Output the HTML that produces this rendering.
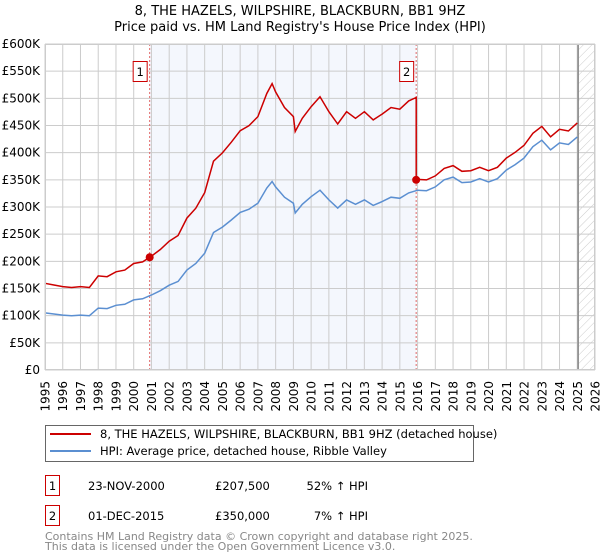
<!DOCTYPE html>
<html><head><meta charset="utf-8">
<style>
body{margin:0;background:#fff;}
svg{display:block;font-family:"DejaVu Sans","Liberation Sans",sans-serif;}
</style></head>
<body>
<svg id="chart" width="600" height="560" viewBox="0 0 600 560">
<defs>
<pattern id="hatch" width="6" height="6" patternUnits="userSpaceOnUse" patternTransform="rotate(45)">
<line x1="0" y1="0" x2="0" y2="6" stroke="#cccccc" stroke-width="1"/>
</pattern>
</defs>
<text x="300" y="15" text-anchor="middle" font-size="13" fill="#000">8, THE HAZELS, WILPSHIRE, BLACKBURN, BB1 9HZ</text>
<text x="300" y="31" text-anchor="middle" font-size="13" fill="#000">Price paid vs. HM Land Registry's House Price Index (HPI)</text>
<g id="plot"></g>
<g id="legend">
<rect x="45.5" y="425.5" width="428" height="36" fill="#fff" stroke="#666"/>
<line x1="50" y1="434" x2="91" y2="434" stroke="#cc0000" stroke-width="2"/>
<text x="100" y="438" font-size="11.5">8, THE HAZELS, WILPSHIRE, BLACKBURN, BB1 9HZ (detached house)</text>
<line x1="50" y1="451" x2="91" y2="451" stroke="#5b8fd1" stroke-width="2"/>
<text x="100" y="455" font-size="11.5">HPI: Average price, detached house, Ribble Valley</text>
</g>
<g font-size="11.5">
<rect x="45.5" y="475.5" width="14" height="20" fill="#fff" stroke="#cc0000"/>
<text x="52.5" y="490" text-anchor="middle">1</text>
<text x="88" y="490">23-NOV-2000</text>
<text x="215" y="490">£207,500</text>
<text x="368" y="490" text-anchor="end">52% ↑ HPI</text>
<rect x="45.5" y="505.5" width="14" height="20" fill="#fff" stroke="#cc0000"/>
<text x="52.5" y="520" text-anchor="middle">2</text>
<text x="88" y="520">01-DEC-2015</text>
<text x="215" y="520">£350,000</text>
<text x="368" y="520" text-anchor="end">7% ↑ HPI</text>
</g>
<text x="45" y="540" font-size="11" fill="#888">Contains HM Land Registry data © Crown copyright and database right 2025.</text>
<text x="45" y="550" font-size="11" fill="#888">This data is licensed under the Open Government Licence v3.0.</text>
</svg>
<script>
const hpiYears = [1995,1995.5,1996,1996.5,1997,1997.5,1998,1998.5,1999,1999.5,2000,2000.5,2001,2001.5,2002,2002.5,2003,2003.5,2004,2004.5,2005,2005.5,2006,2006.5,2007,2007.5,2007.8,2008,2008.5,2009,2009.1,2009.5,2010,2010.5,2011,2011.5,2012,2012.5,2013,2013.5,2014,2014.5,2015,2015.5,2016,2016.5,2017,2017.5,2018,2018.5,2019,2019.5,2020,2020.5,2021,2021.5,2022,2022.5,2023,2023.5,2024,2024.5,2025];
const hpiValues = [105,103,101,100,101,100,114,113,119,121,129,131,138,146,156,163,184,196,215,253,263,276,290,296,307,335,347,337,318,307,289,305,319,331,313,298,313,305,313,303,310,318,316,326,331,330,337,350,355,345,346,352,346,352,368,378,390,411,423,405,418,415,429];
const sales = [{t:2000.9, v:207.5, label:"1"},{t:2015.92, v:350, label:"2"}];
const yTicks = [0,50,100,150,200,250,300,350,400,450,500,550,600];
const yTickLabels = ["£0","£50K","£100K","£150K","£200K","£250K","£300K","£350K","£400K","£450K","£500K","£550K","£600K"];
const xTicks = [1995,1996,1997,1998,1999,2000,2001,2002,2003,2004,2005,2006,2007,2008,2009,2010,2011,2012,2013,2014,2015,2016,2017,2018,2019,2020,2021,2022,2023,2024,2025,2026];
const dataEnd = 2025.05;

const X0=45,X1=595,Y0=370,Y1=44;
const xs = t => X0 + (t-1995)/(2026-1995)*(X1-X0);
const ys = v => Y0 - v/600*(Y0-Y1);
const NS="http://www.w3.org/2000/svg";
const plot=document.getElementById('plot');
function mk(tag,attrs,parent){const e=document.createElementNS(NS,tag);for(const k in attrs)e.setAttribute(k,attrs[k]);(parent||plot).appendChild(e);return e;}
function hpiAt(t){for(let i=0;i<hpiYears.length-1;i++){if(t>=hpiYears[i]&&t<=hpiYears[i+1]){const f=(t-hpiYears[i])/(hpiYears[i+1]-hpiYears[i]);return hpiValues[i]+f*(hpiValues[i+1]-hpiValues[i]);}}return hpiValues[hpiValues.length-1];}

let e;
e=mk('rect',{x:X0,y:Y1,width:X1-X0,height:Y0-Y1,fill:'#fff'});


e=mk('rect',{x:xs(sales[0].t),y:Y1,width:xs(sales[1].t)-xs(sales[0].t),height:Y0-Y1,fill:'#f4f7fd'});


e=mk('rect',{x:xs(dataEnd),y:Y1,width:X1-xs(dataEnd),height:Y0-Y1,fill:'url(#hatch)'});


yTicks.forEach((v,i)=>{
  e=mk('line',{x1:X0,x2:X1,y1:ys(v),y2:ys(v),stroke:'#cccccc','stroke-width':1});
  
  
  e=mk('text',{x:40,y:ys(v)+4,'text-anchor':'end','font-size':12});
  e.textContent=yTickLabels[i];
  
  
});
xTicks.forEach(t=>{
  e=mk('line',{x1:xs(t),x2:xs(t),y1:Y1,y2:Y0,stroke:'#cccccc','stroke-width':1});
  
  
  e=mk('text',{x:0,y:0,'text-anchor':'end','font-size':12,transform:`translate(${xs(t)+4.5},381) rotate(-90)`});
  e.textContent=t;
  
  
});
e=mk('line',{x1:xs(dataEnd),x2:xs(dataEnd),y1:Y1,y2:Y0,stroke:'#888',"stroke-width":1.5});


sales.forEach(s=>{
  e=mk('line',{x1:xs(s.t),x2:xs(s.t),y1:Y1,y2:Y0,stroke:'#e06666','stroke-width':1,'stroke-dasharray':'2,2'});
  
  
});
let d=hpiYears.map((t,i)=>(i?'L':'M')+xs(t).toFixed(1)+','+ys(hpiValues[i]).toFixed(1)).join('');
e=mk('path',{d:d,fill:'none',stroke:'#5b8fd1','stroke-width':1.5});


const r1=sales[0].v/hpiAt(sales[0].t), r2=sales[1].v/hpiAt(sales[1].t);
let pts=[];
hpiYears.forEach((t,i)=>{
  if(t<sales[1].t) pts.push([t,hpiValues[i]*r1]);
});
pts.push([sales[1].t,hpiAt(sales[1].t)*r1]);
pts.push([sales[1].t,sales[1].v]);
hpiYears.forEach((t,i)=>{ if(t>sales[1].t) pts.push([t,hpiValues[i]*r2]); });
d=pts.map((p,i)=>(i?'L':'M')+xs(p[0]).toFixed(1)+','+ys(p[1]).toFixed(1)).join('');
e=mk('path',{d:d,fill:'none',stroke:'#cc0000','stroke-width':1.5});


sales.forEach(s=>{
  e=mk('circle',{cx:xs(s.t),cy:ys(s.v),r:4,fill:'#cc0000'});
  
  
  e=mk('rect',{x:xs(s.t)-16.5,y:61.5,width:14,height:20,fill:'#fff',stroke:'#cc0000'});
  
  
  e=mk('text',{x:xs(s.t)-9.5,y:76,'text-anchor':'middle','font-size':11.5});
  e.textContent=s.label;
  
  
});
e=mk('rect',{x:X0+0.5,y:Y1+0.5,width:X1-X0-1,height:Y0-Y1-1,fill:'none',stroke:'#cccccc'});


</script>
</body></html>
